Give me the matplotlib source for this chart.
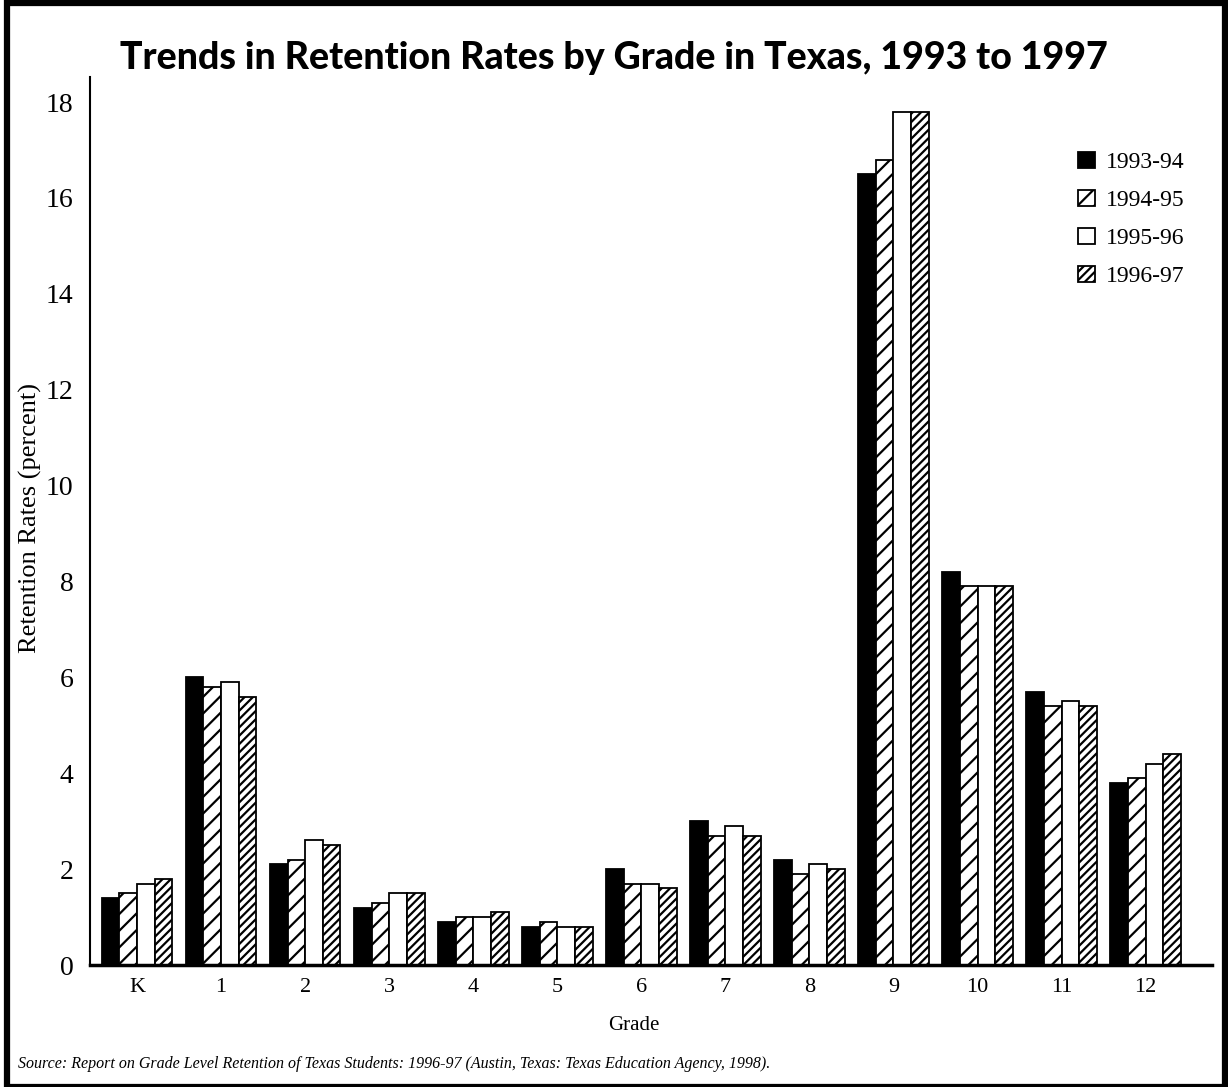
import matplotlib
matplotlib.use("Agg")
import matplotlib.pyplot as plt
import numpy as np
from matplotlib.patches import Rectangle

grades = ["K", "1", "2", "3", "4", "5", "6", "7", "8", "9", "10", "11", "12"]
series_names = ["1993-94", "1994-95", "1995-96", "1996-97"]
r1993 = [1.4, 6.0, 2.1, 1.2, 0.9, 0.8, 2.0, 3.0, 2.2, 16.5, 8.2, 5.7, 3.8]
r1994 = [1.5, 5.8, 2.2, 1.3, 1.0, 0.9, 1.7, 2.7, 1.9, 16.8, 7.9, 5.4, 3.9]
r1995 = [1.7, 5.9, 2.6, 1.5, 1.0, 0.8, 1.7, 2.9, 2.1, 17.8, 7.9, 5.5, 4.2]
r1996 = [1.8, 5.6, 2.5, 1.5, 1.1, 0.8, 1.6, 2.7, 2.0, 17.8, 7.9, 5.4, 4.4]
y_ticks = [0, 2, 4, 6, 8, 10, 12, 14, 16, 18]

plt.rcParams['hatch.linewidth'] = 1.6
serif = ['Liberation Serif', 'DejaVu Serif']

fig = plt.figure(figsize=(12.28, 10.87), dpi=100)
ax = fig.add_axes([0.0733, 0.1122, 0.9137, 0.8168])

x = np.arange(len(grades))
w = 0.21
styles = [dict(color='black', edgecolor='black', hatch=None),
          dict(color='white', edgecolor='black', hatch='//'),
          dict(color='white', edgecolor='black', hatch=None),
          dict(color='white', edgecolor='black', hatch='////')]
data = [r1993, r1994, r1995, r1996]
for i, (vals, st, name) in enumerate(zip(data, styles, series_names)):
    ax.bar(x + (i - 1.5) * w, vals, width=w, color=st['color'],
           edgecolor=st['edgecolor'], hatch=st['hatch'], linewidth=1.3,
           label=name)

ax.set_xlim(-0.56, 12.79)
ax.set_ylim(0, 18.52)
ax.set_xticks(x)
ax.set_xticklabels(grades, fontfamily=serif, fontsize=16)
ax.set_yticks(y_ticks)
ax.set_yticklabels([str(v) for v in y_ticks], fontfamily=serif, fontsize=20)
ax.tick_params(axis='both', length=0)
ax.tick_params(axis='y', pad=12)
ax.tick_params(axis='x', pad=9)
for s in ['top', 'right']:
    ax.spines[s].set_visible(False)
ax.spines['left'].set_linewidth(1.5)
ax.spines['bottom'].set_linewidth(2.5)

fig.text(0.516, 0.057, "Grade", fontfamily=serif, fontsize=15,
         ha='center', va='center')
fig.text(0.025, 0.523, "Retention Rates (percent)", rotation=90,
         fontfamily=serif, fontsize=19, ha='center', va='center')

leg = ax.legend(loc='upper right', bbox_to_anchor=(0.994, 0.94), frameon=False,
                prop={'family': serif, 'size': 17}, handlelength=0.7,
                handleheight=0.7, handletextpad=0.45, labelspacing=0.7)

fig.text(0.5, 0.947, "Trends in Retention Rates by Grade in Texas, 1993 to 1997",
         ha='center', va='center', fontsize=27, fontfamily='Lato',
         fontweight='black')

fig.text(0.015, 0.021, "Source: Report on Grade Level Retention of Texas Students: 1996-97 (Austin, Texas: Texas Education Agency, 1998).",
         ha='left', va='center', fontsize=11.5, fontfamily=serif, style='italic')

fig.patches.append(Rectangle((0.0057, 0.0), 0.9915, 0.9975, transform=fig.transFigure,
                             fill=False, edgecolor='black', linewidth=4.5))

fig.savefig("out.png", dpi=100)
